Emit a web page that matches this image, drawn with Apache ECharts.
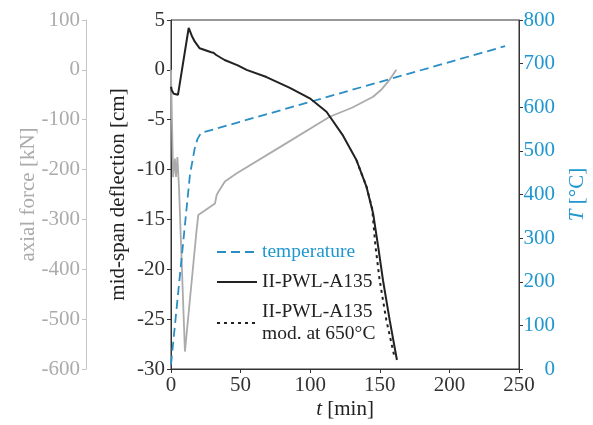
<!DOCTYPE html>
<html>
<head>
<meta charset="utf-8">
<script src="https://cdn.jsdelivr.net/npm/echarts@6/dist/echarts.min.js"></script>
<style>
html,body{margin:0;padding:0;background:#fff;}
#chart{width:593px;height:425px;}
</style>
</head>
<body>
<div id="chart"></div>
<script>
// ---- data ----
var xTicks = [0, 50, 100, 150, 200, 250];
var deflTicks = [5, 0, -5, -10, -15, -20, -25, -30];
var forceTicks = [100, 0, -100, -200, -300, -400, -500, -600];
var tempTicks = [800, 700, 600, 500, 400, 300, 200, 100, 0];

// temperature [°C] vs time [min]
var tempTime = [0, 13.6, 17, 19, 21.5, 240];
var tempVal  = [10, 445, 505, 527, 541, 740];

// mid-span deflection [cm], II-PWL-A135
var deflTime = [0, 0.5, 2, 5, 12.7, 15, 17, 20.6, 28.9, 30.5, 32.5, 38.5, 48, 54.3, 68.6, 85.4, 99.7, 111.7, 123.6, 133.2, 140.4, 145.2, 148.8, 152.3, 157.1, 162.3];
var deflVal  = [-1.7, -2.05, -2.4, -2.5, 4.2, 3.4, 2.85, 2.16, 1.76, 1.72, 1.49, 0.99, 0.45, 0.0, -0.72, -1.8, -2.85, -4.2, -6.6, -9.04, -11.7, -14.4, -17.7, -21.1, -25.1, -29.1];

// mid-span deflection [cm], II-PWL-A135 mod. at 650°C (dotted)
var modTime = [133.2, 140.4, 144.5, 146.9, 149.9, 154.7, 160.7];
var modVal  = [-9.04, -11.7, -13.9, -17.7, -21.1, -25.1, -28.9];

// axial force [kN]
var forceTime = [0, 0.7, 1.5, 2.8, 3.6, 4.6, 5.8, 10, 18.4, 19.6, 31.6, 32.8, 34, 38.7, 47, 80, 114, 130, 145.2, 151, 157, 161.9];
var forceVal  = [0, -100, -215, -178, -215, -175, -240, -565, -321, -291, -268, -251, -245, -224, -208, -152, -94, -76, -54, -40, -20, 0];

function zip(a, b) { return a.map(function (v, i) { return [v, b[i]]; }); }

var FONT = 'Liberation Serif';
var BLUE = '#1f96d0';
var BLUE_LINE = '#2a8ec4';
var GRAY = '#ababab';
var BLACK = '#222222';

var chart = echarts.init(document.getElementById('chart'), null, {renderer: 'canvas'});

var option = {
  animation: false,
  backgroundColor: '#ffffff',
  textStyle: {fontFamily: FONT},
  grid: {left: 171, right: 74, top: 20, bottom: 56, show: true, borderColor: '#333', borderWidth: 1,
         containLabel: false, outerBoundsMode: 'none'},
  legend: {
    left: 211, top: 236, orient: 'vertical',
    itemWidth: 40, itemHeight: 14, itemGap: 8,
    itemStyle: {opacity: 0},
    textStyle: {fontFamily: FONT, fontSize: 19.5, lineHeight: 22, color: BLACK},
    data: [
      {name: 'temperature', textStyle: {color: BLUE}},
      {name: 'II-PWL-A135'},
      {name: 'II-PWL-A135\nmod. at 650°C'}
    ]
  },
  xAxis: {
    type: 'value', min: xTicks[0], max: xTicks[xTicks.length - 1], interval: 50,
    name: '{i|t} [min]', nameLocation: 'middle', nameGap: 30, nameMoveOverlap: false,
    nameTextStyle: {fontFamily: FONT, fontSize: 21, color: BLACK, rich: {i: {fontStyle: 'italic', fontFamily: FONT, fontSize: 21}}},
    axisLine: {onZero: false, lineStyle: {color: '#333', width: 1}},
    axisTick: {show: true, length: 4, lineStyle: {color: '#333'}},
    axisLabel: {fontFamily: FONT, fontSize: 21, color: '#333', margin: 6},
    splitLine: {show: false}
  },
  yAxis: [
    {
      type: 'value', position: 'left', min: -30, max: 5, interval: 5,
      name: 'mid-span deflection [cm]', nameLocation: 'middle', nameGap: 42, nameRotate: 90, nameMoveOverlap: false,
      nameTextStyle: {fontFamily: FONT, fontSize: 21, color: BLACK},
      axisLine: {show: true, onZero: false, lineStyle: {color: '#333'}},
      axisTick: {show: true, length: 4, lineStyle: {color: '#333'}},
      axisLabel: {fontFamily: FONT, fontSize: 21, color: '#333', margin: 6},
      splitLine: {show: false}
    },
    {
      type: 'value', position: 'left', offset: 85, min: -600, max: 100, interval: 100,
      name: 'axial force [kN]', nameLocation: 'middle', nameGap: 47, nameRotate: 90, nameMoveOverlap: false,
      nameTextStyle: {fontFamily: FONT, fontSize: 21, color: GRAY},
      axisLine: {show: true, onZero: false, lineStyle: {color: '#c4c4c4'}},
      axisTick: {show: true, length: 4, lineStyle: {color: '#c4c4c4'}},
      axisLabel: {fontFamily: FONT, fontSize: 21, color: GRAY, margin: 6},
      splitLine: {show: false}
    },
    {
      type: 'value', position: 'right', min: 0, max: 800, interval: 100,
      name: '{i|T} [°C]', nameLocation: 'middle', nameGap: 48, nameRotate: 90, nameMoveOverlap: false,
      nameTextStyle: {fontFamily: FONT, fontSize: 21, color: BLUE, rich: {i: {fontStyle: 'italic', fontFamily: FONT, fontSize: 21, color: BLUE}}},
      axisLine: {show: true, onZero: false, lineStyle: {color: '#333'}},
      axisTick: {show: true, length: 4, lineStyle: {color: '#333'}},
      axisLabel: {fontFamily: FONT, fontSize: 21, color: BLUE, margin: 36, align: 'right'},
      splitLine: {show: false}
    }
  ],
  series: [
    {
      name: 'axial force', type: 'line', yAxisIndex: 1, showSymbol: false, symbol: 'none',
      lineStyle: {color: GRAY, width: 1.8}, itemStyle: {color: GRAY},
      data: zip(forceTime, forceVal), z: 1
    },
    {
      name: 'temperature', type: 'line', yAxisIndex: 2, showSymbol: false, symbol: 'none',
      lineStyle: {color: BLUE_LINE, width: 1.8, type: [9, 5]}, itemStyle: {color: BLUE_LINE},
      data: zip(tempTime, tempVal), z: 3
    },
    {
      name: 'II-PWL-A135\nmod. at 650°C', type: 'line', yAxisIndex: 0, showSymbol: false, symbol: 'none',
      lineStyle: {color: BLACK, width: 2, type: [3, 4]}, itemStyle: {color: BLACK},
      data: zip(modTime, modVal), z: 2
    },
    {
      name: 'II-PWL-A135', type: 'line', yAxisIndex: 0, showSymbol: false, symbol: 'none',
      lineStyle: {color: BLACK, width: 2}, itemStyle: {color: BLACK},
      data: zip(deflTime, deflVal), z: 4
    }
  ]
};
chart.setOption(option);
</script>
</body>
</html>
